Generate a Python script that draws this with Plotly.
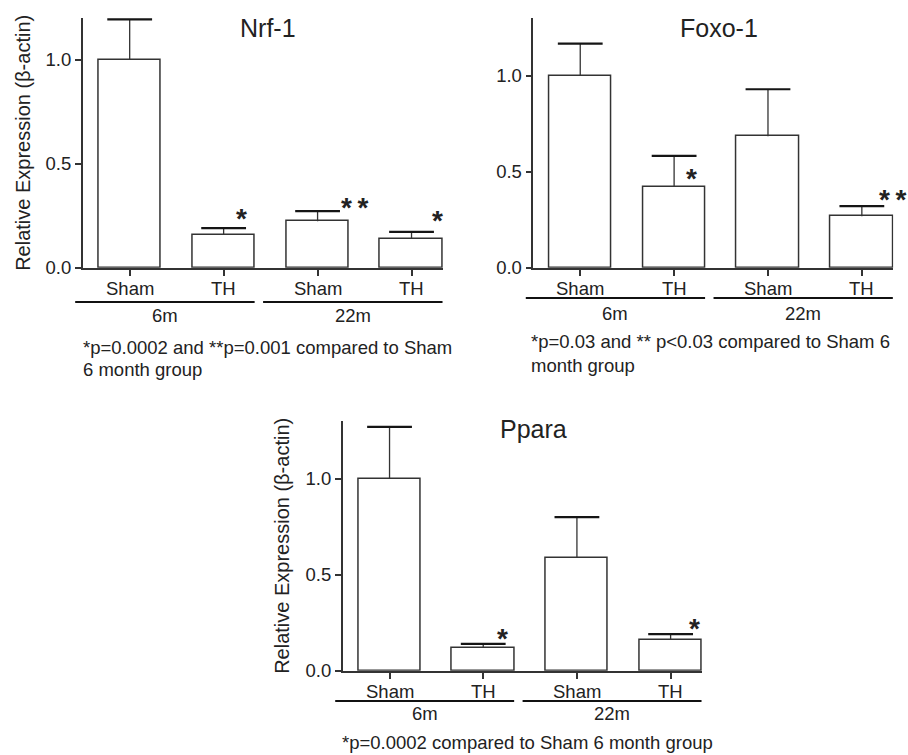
import plotly.graph_objects as go

# ---------------- data ----------------
categories = ["Sham", "TH", "Sham", "TH"]
group_labels = ["6m", "22m"]
group_members = [[0, 1], [2, 3]]

nrf_mean = [1.0, 0.159, 0.223, 0.140]
nrf_upper = [1.193, 0.190, 0.272, 0.172]
nrf_sig = ["", "*", "**", "*"]

foxo_mean = [1.0, 0.422, 0.684, 0.268]
foxo_upper = [1.167, 0.582, 0.929, 0.321]
foxo_sig = ["", "*", "", "**"]

ppara_mean = [1.0, 0.120, 0.588, 0.161]
ppara_upper = [1.269, 0.140, 0.800, 0.190]
ppara_sig = ["", "*", "", "*"]

titles = ["Nrf-1", "Foxo-1", "Ppara"]
footnotes = [
    ["*p=0.0002 and **p=0.001 compared to Sham", "6 month group"],
    ["*p=0.03 and ** p<0.03 compared to Sham 6", "month group"],
    ["*p=0.0002 compared to Sham 6 month group"],
]
ytitle = "Relative Expression (β-actin)"

# ---------------- layout constants ----------------
W, H = 908, 755
FONT = "Liberation Sans, Arial, sans-serif"
TXT = "#222222"
LINE = "#333333"
CAP = "#151515"
XR = [-0.5, 3.335]


def px(x):
    return x / W


def py(y):
    return 1 - y / H


panels = [
    dict(mean=nrf_mean, upper=nrf_upper, sig=nrf_sig, yr=[0, 1.2],
         xd=[px(82.7), px(443)], yd=[py(267.7), py(18)],
         title_xy=(268, 28), ytitle_x=23, cat_y=288,
         star_dx=[0, 0.19, 0.40, 0.28], star_dy=[0, 0.06, 0.03, 0.07],
         grp_y=302, grp_lbl_y=316, foot_x=81, foot_y=[347, 369]),
    dict(mean=foxo_mean, upper=foxo_upper, sig=foxo_sig, yr=[0, 1.3],
         xd=[px(533.3), px(893.3)], yd=[py(267.7), py(18)],
         title_xy=(719, 28), ytitle_x=None, cat_y=288,
         star_dx=[0, 0.19, 0, 0.33], star_dy=[0, -0.10, 0, 0.05],
         grp_y=298, grp_lbl_y=313, foot_x=529, foot_y=[342, 365]),
    dict(mean=ppara_mean, upper=ppara_upper, sig=ppara_sig, yr=[0, 1.3],
         xd=[px(342.7), px(702)], yd=[py(670.7), py(421)],
         title_xy=(533, 429), ytitle_x=282, cat_y=691.5,
         star_dx=[0, 0.21, 0, 0.255], star_dy=[0, 0.045, 0, 0.047],
         grp_y=701, grp_lbl_y=713, foot_x=340, foot_y=[742]),
]

fig = go.Figure()
annotations = []
shapes = []

for i, p in enumerate(panels):
    n = "" if i == 0 else str(i + 1)
    xa, ya = "x" + n, "y" + n
    xs = list(range(len(categories)))
    fig.add_trace(go.Bar(
        x=xs, y=p["mean"], width=0.667, xaxis=xa, yaxis=ya,
        marker=dict(color="white", line=dict(color=LINE, width=1.5)),
        showlegend=False, hoverinfo="skip",
    ))
    # error bar stems (upper only)
    sx, sy = [], []
    for j in xs:
        sx += [j, j, None]
        sy += [p["mean"][j], p["upper"][j], None]
    fig.add_trace(go.Scatter(
        x=sx, y=sy, xaxis=xa, yaxis=ya, mode="lines",
        line=dict(color=LINE, width=1.3), showlegend=False, hoverinfo="skip",
    ))
    # error bar caps
    fig.add_trace(go.Scatter(
        x=xs, y=p["upper"], xaxis=xa, yaxis=ya, mode="markers",
        marker=dict(symbol="line-ew", size=32, color=CAP,
                    line=dict(color=CAP, width=2.2)),
        showlegend=False, hoverinfo="skip", cliponaxis=False,
    ))
    axcommon = dict(showgrid=False, zeroline=False, showline=True,
                    linecolor=LINE, linewidth=1.5, ticks="outside",
                    tickwidth=1.5, tickcolor=LINE, automargin=False,
                    tickfont=dict(family=FONT, size=18.5, color=TXT))
    fig.update_layout(**{
        "xaxis" + n: dict(domain=p["xd"], range=XR, anchor=ya,
                          tickvals=xs, showticklabels=False, ticklen=7,
                          **axcommon),
        "yaxis" + n: dict(domain=p["yd"], range=p["yr"], anchor=xa,
                          tickvals=[0, 0.5, 1.0], tickformat=".1f",
                          ticklen=6, **axcommon),
    })

    def to_paper(xv, p=p):
        return p["xd"][0] + (xv - XR[0]) / (XR[1] - XR[0]) * (p["xd"][1] - p["xd"][0])

    # category labels
    for j, c in enumerate(categories):
        annotations.append(dict(x=j, y=py(p["cat_y"]), xref=xa, yref="paper",
                                text=c, showarrow=False,
                                font=dict(family=FONT, size=18.5, color=TXT),
                                xanchor="center", yanchor="middle"))
    # title
    tx, ty = p["title_xy"]
    annotations.append(dict(x=px(tx), y=py(ty), xref="paper", yref="paper",
                            text=titles[i], showarrow=False,
                            font=dict(family=FONT, size=25, color=TXT),
                            xanchor="center", yanchor="middle"))
    # y title
    if p["ytitle_x"] is not None:
        annotations.append(dict(x=px(p["ytitle_x"]), y=(p["yd"][0] + p["yd"][1]) / 2,
                                xref="paper", yref="paper", text=ytitle,
                                textangle=-90, showarrow=False,
                                font=dict(family=FONT, size=20, color=TXT),
                                xanchor="center", yanchor="middle"))
    # significance stars
    for j, s in enumerate(p["sig"]):
        if not s:
            continue
        txt = "<b>*\u2009*</b>" if s == "**" else "<b>*</b>"
        annotations.append(dict(x=j + p["star_dx"][j], y=p["upper"][j] + p["star_dy"][j],
                                xref=xa, yref=ya, text=txt, showarrow=False,
                                font=dict(family=FONT, size=28, color=TXT),
                                xanchor="center", yanchor="middle", yshift=-3))
    # group lines and labels
    for g, members in enumerate(group_members):
        x0 = to_paper(members[0] - 0.58)
        x1 = to_paper(members[-1] + 0.33)
        shapes.append(dict(type="line", xref="paper", yref="paper",
                           x0=x0, x1=min(x1, 1.0), y0=py(p["grp_y"]), y1=py(p["grp_y"]),
                           line=dict(color="#111111", width=2)))
        annotations.append(dict(x=(x0 + x1) / 2, y=py(p["grp_lbl_y"]),
                                xref="paper", yref="paper", text=group_labels[g],
                                showarrow=False,
                                font=dict(family=FONT, size=18.5, color=TXT),
                                xanchor="center", yanchor="middle"))
    # footnotes
    for k, line in enumerate(footnotes[i]):
        annotations.append(dict(x=px(p["foot_x"]), y=py(p["foot_y"][k]),
                                xref="paper", yref="paper", text=line,
                                showarrow=False,
                                font=dict(family=FONT, size=18.5, color=TXT),
                                xanchor="left", yanchor="middle"))

fig.update_layout(
    width=W, height=H,
    margin=dict(l=0, r=0, t=0, b=0, pad=0, autoexpand=False),
    paper_bgcolor="white", plot_bgcolor="white",
    annotations=annotations, shapes=shapes, bargap=0,
)

fig.write_html("out.html")
